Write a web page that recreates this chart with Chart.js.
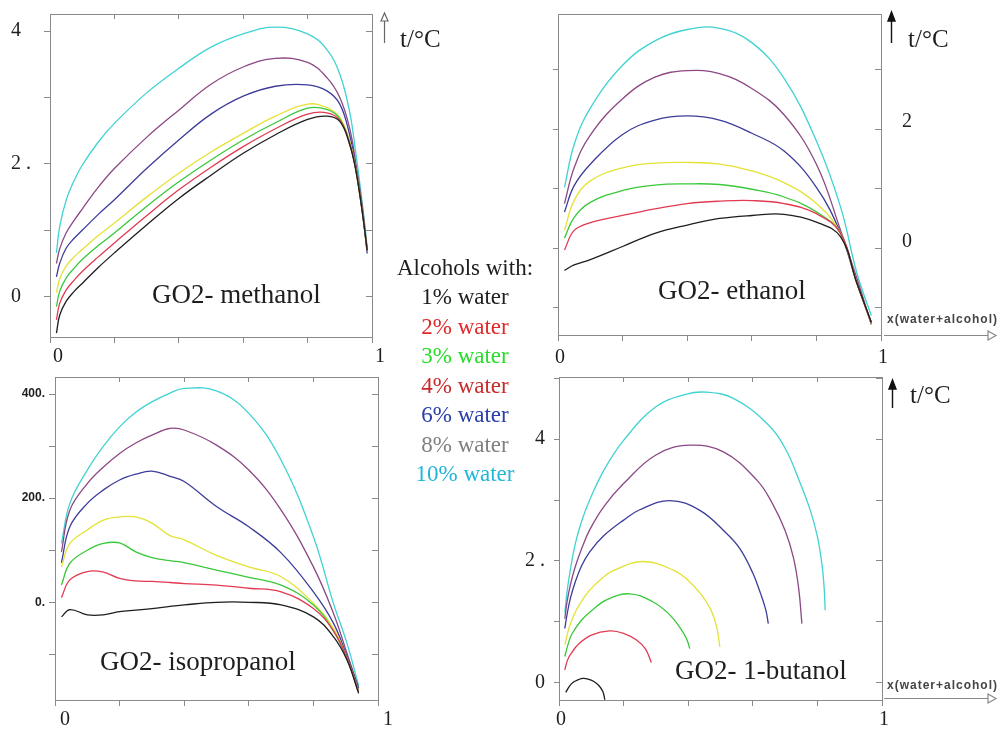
<!DOCTYPE html>
<html><head><meta charset="utf-8">
<script src="https://cdn.jsdelivr.net/npm/chart.js@4.4.1/dist/chart.umd.min.js"></script>
<style>
html,body{margin:0;padding:0;background:#fff;}
body{width:998px;height:729px;position:relative;overflow:hidden;font-family:"Liberation Serif","Times New Roman",serif;}
canvas{position:absolute;}
.t{position:absolute;white-space:nowrap;color:#1e1e1e;}
.title{font-size:27px;line-height:30px;}
.unit{font-size:25px;line-height:28px;}
.xlab{font:bold 12px "Liberation Sans",Arial,sans-serif;line-height:14px;color:#444;letter-spacing:1px;}
.leg{font-size:23px;line-height:26px;text-align:center;width:170px;left:380px;}
svg{position:absolute;left:0;top:0;}
</style></head><body>
<canvas id="cMeth" width="395" height="372" style="left:0;top:0"></canvas>
<canvas id="cEth" width="380" height="372" style="left:548px;top:0"></canvas>
<canvas id="cIso" width="400" height="366" style="left:0;top:363px"></canvas>
<canvas id="cBut" width="390" height="366" style="left:500px;top:363px"></canvas>

<svg width="998" height="729">
  <g stroke="#666" stroke-width="1.2" fill="none">
    <line x1="384.5" y1="43" x2="384.5" y2="17"/>
    <polygon points="381,21 384.5,13 388,21" fill="#fff"/>
  </g>
  <g stroke="#111" stroke-width="1.4">
    <line x1="891.5" y1="43" x2="891.5" y2="18"/>
    <polygon points="888,21 891.5,12 895,21" fill="#111"/>
    <line x1="892.5" y1="408" x2="892.5" y2="386"/>
    <polygon points="889,389 892.5,380 896,389" fill="#111"/>
  </g>
  <g stroke="#888" stroke-width="1.2">
    <line x1="884" y1="335.5" x2="988" y2="335.5"/>
    <polygon points="988,331 996,335.5 988,340" fill="#fff"/>
    <line x1="884" y1="698.5" x2="988" y2="698.5"/>
    <polygon points="988,694 996,698.5 988,703" fill="#fff"/>
  </g>
</svg>

<div class="t title" style="left:152px;top:279px">GO2- methanol</div>
<div class="t title" style="left:658px;top:275px">GO2- ethanol</div>
<div class="t title" style="left:100px;top:646px">GO2- isopropanol</div>
<div class="t title" style="left:675px;top:655px">GO2- 1-butanol</div>
<div class="t unit" style="left:400px;top:25px">t/°C</div>
<div class="t unit" style="left:908px;top:25px">t/°C</div>
<div class="t unit" style="left:910px;top:381px">t/°C</div>
<div class="t xlab" style="left:887px;top:312px">x(water+alcohol)</div>
<div class="t xlab" style="left:887px;top:678px">x(water+alcohol)</div>
<div id="legend"></div>

<script>
// ---------- categories ----------
const seriesNames = ['1% water','2% water','3% water','4% water','6% water','8% water','10% water'];
const legendTitle = 'Alcohols with:';

// ---------- GO2 - methanol ----------
const methanolX  = [0.02, 0.03, 0.05, 0.075, 0.1, 0.15, 0.2, 0.3, 0.4, 0.5, 0.6, 0.7, 0.8, 0.86, 0.9, 0.93, 0.95, 0.97, 0.985];
const methanol1  = [-0.55, -0.28, -0.07, 0.08, 0.2, 0.44, 0.66, 1.08, 1.48, 1.83, 2.16, 2.44, 2.67, 2.72, 2.64, 2.3, 1.9, 1.27, 0.7];
const methanol2  = [-0.35, -0.1, 0.1, 0.25, 0.38, 0.6, 0.81, 1.22, 1.61, 1.95, 2.26, 2.53, 2.75, 2.77, 2.66, 2.32, 1.9, 1.27, 0.7];
const methanol3  = [-0.15, 0.08, 0.28, 0.43, 0.56, 0.77, 0.96, 1.36, 1.73, 2.06, 2.36, 2.62, 2.84, 2.82, 2.68, 2.33, 1.9, 1.27, 0.7];
const methanol4  = [0.06, 0.27, 0.46, 0.6, 0.71, 0.92, 1.11, 1.5, 1.86, 2.18, 2.46, 2.72, 2.9, 2.85, 2.7, 2.35, 1.92, 1.28, 0.7];
const methanol6  = [0.3, 0.5, 0.73, 0.88, 1.0, 1.24, 1.46, 1.93, 2.36, 2.75, 3.02, 3.17, 3.19, 3.1, 2.9, 2.45, 1.95, 1.3, 0.65];
const methanol8  = [0.5, 0.72, 0.96, 1.15, 1.32, 1.65, 1.93, 2.4, 2.81, 3.2, 3.46, 3.59, 3.53, 3.3, 3.0, 2.55, 2.0, 1.35, 0.7];
const methanol10 = [0.66, 1.05, 1.45, 1.75, 1.98, 2.33, 2.61, 3.07, 3.44, 3.76, 3.96, 4.06, 3.96, 3.72, 3.35, 2.8, 2.15, 1.4, 0.76];
const methanolYTicks = [4, 2, 0];
const methanolYLabels = ['4', '2 .', '0'];

// ---------- GO2 - ethanol ----------
const ethanolX  = [0.02, 0.05, 0.1, 0.2, 0.3, 0.4, 0.5, 0.6, 0.7, 0.8, 0.875, 0.925, 0.97];
const ethanol1  = [-0.37, -0.28, -0.19, 0.03, 0.25, 0.39, 0.5, 0.55, 0.57, 0.44, 0.19, -0.58, -1.24];
const ethanol2  = [-0.03, 0.3, 0.43, 0.55, 0.66, 0.75, 0.79, 0.8, 0.75, 0.58, 0.25, -0.58, -1.26];
const ethanol3  = [0.17, 0.52, 0.77, 0.97, 1.06, 1.08, 1.07, 0.99, 0.86, 0.61, 0.25, -0.58, -1.26];
const ethanol4  = [0.3, 0.8, 1.13, 1.35, 1.43, 1.44, 1.41, 1.3, 1.1, 0.75, 0.25, -0.58, -1.26];
const ethanol6  = [0.61, 1.05, 1.41, 1.91, 2.15, 2.22, 2.15, 1.93, 1.63, 1.02, 0.25, -0.58, -1.24];
const ethanol8  = [0.75, 1.35, 1.9, 2.51, 2.87, 2.98, 2.93, 2.68, 2.24, 1.41, 0.3, -0.5, -1.28];
const ethanol10 = [1.02, 1.74, 2.35, 3.07, 3.48, 3.67, 3.69, 3.45, 2.85, 1.8, 0.69, -0.41, -1.13];
const ethanolYTicks = [2, 0];
const ethanolYLabels = ['2', '0'];

// ---------- GO2 - isopropanol ----------
const isoX  = [0.02, 0.046, 0.1, 0.15, 0.2, 0.25, 0.3, 0.356, 0.4, 0.5, 0.6, 0.7, 0.8, 0.862, 0.904, 0.94];
const iso1  = [-28, -14, -24, -24, -18, -15, -12, -8, -5, 0, 0, -5, -28, -66, -111, -175];
const iso2  = [9, 43, 59, 58, 46, 41, 40, 38, 36, 33, 27, 20, -12, -55, -108, -172];
const iso3  = [33, 75, 100, 113, 114, 97, 86, 80, 76, 62, 48, 33, -5, -55, -108, -170];
const iso4  = [68, 113, 139, 158, 164, 164, 152, 128, 120, 90, 68, 49, -2, -50, -108, -170];
const iso6  = [76, 145, 190, 216, 235, 246, 252, 242, 232, 184, 145, 95, 20, -40, -104, -165];
const iso8  = [97, 177, 228, 260, 286, 306, 321, 334, 331, 302, 254, 177, 68, -21, -98, -165];
const iso10 = [113, 190, 254, 300, 337, 365, 385, 402, 411, 406, 363, 273, 126, -2, -79, -160];
const isoYTicks = [400, 200, 0];
const isoYLabels = ['400.', '200.', '0.'];

// ---------- GO2 - 1-butanol ----------
const but1X  = [0.021, 0.032, 0.045, 0.06, 0.074, 0.09, 0.108, 0.124, 0.136, 0.142];
const but1   = [-0.16, -0.06, 0.01, 0.05, 0.07, 0.06, 0.02, -0.05, -0.15, -0.28];
const but2X  = [0.018, 0.025, 0.035, 0.06, 0.1, 0.157, 0.2, 0.24, 0.268, 0.286];
const but2   = [0.21, 0.35, 0.46, 0.63, 0.78, 0.85, 0.81, 0.7, 0.55, 0.33];
const but3X  = [0.018, 0.028, 0.04, 0.07, 0.1, 0.147, 0.219, 0.29, 0.34, 0.375, 0.395, 0.405];
const but3   = [0.43, 0.63, 0.8, 1.03, 1.18, 1.36, 1.46, 1.33, 1.13, 0.9, 0.72, 0.56];
const but4X  = [0.018, 0.03, 0.045, 0.065, 0.095, 0.13, 0.168, 0.26, 0.354, 0.4, 0.44, 0.47, 0.488, 0.498];
const but4   = [0.62, 0.88, 1.1, 1.3, 1.52, 1.7, 1.84, 1.99, 1.85, 1.68, 1.45, 1.2, 0.92, 0.59];
const but6X  = [0.018, 0.025, 0.035, 0.05, 0.07, 0.095, 0.14, 0.2, 0.25, 0.343, 0.436, 0.519, 0.56, 0.6, 0.625, 0.64, 0.648];
const but6   = [0.89, 1.12, 1.38, 1.65, 1.92, 2.15, 2.42, 2.67, 2.84, 2.99, 2.83, 2.45, 2.2, 1.8, 1.45, 1.2, 0.97];
const but8X  = [0.018, 0.025, 0.035, 0.05, 0.07, 0.095, 0.14, 0.2, 0.3, 0.405, 0.509, 0.612, 0.66, 0.7, 0.726, 0.742, 0.752];
const but8   = [1.05, 1.33, 1.6, 1.9, 2.2, 2.51, 2.9, 3.27, 3.74, 3.9, 3.79, 3.33, 2.95, 2.5, 2.05, 1.55, 0.97];
const but10X = [0.018, 0.025, 0.035, 0.05, 0.07, 0.095, 0.14, 0.2, 0.3, 0.395, 0.457, 0.54, 0.643, 0.7, 0.745, 0.778, 0.8, 0.814, 0.821, 0.824];
const but10  = [1.15, 1.5, 1.85, 2.27, 2.65, 3.0, 3.5, 3.98, 4.53, 4.74, 4.77, 4.67, 4.26, 3.85, 3.3, 2.83, 2.4, 1.95, 1.55, 1.19];
const butYTicks = [4, 2, 0];
const butYLabels = ['4', '2 .', '0'];

// ---------- shared x tick labels ----------
const xTicks = [0, 1];
const xLabels = ['0', '1'];

// ---------- styles ----------
const LINE_COLORS = ['#1e1e1e', '#e23a52', '#3ac83a', '#e4e236', '#3c3c9a', '#8c4884', '#40d2d2'];
const LEGEND_COLORS = ['#1e1e1e', '#e02a2a', '#2adc2a', '#c82a2a', '#2a40a8', '#808080', '#22b6d8'];
const SERIF = '"Liberation Serif", "Times New Roman", serif';
const GRID = '#8a8a8a';

// legend (text)
(function(){
  const host = document.getElementById('legend');
  const mk = (txt, top, color) => {
    const d = document.createElement('div');
    d.className = 't leg'; d.style.top = top + 'px'; d.style.color = color; d.textContent = txt;
    host.appendChild(d);
  };
  mk(legendTitle, 255, '#1e1e1e');
  seriesNames.forEach((n, i) => mk(n, 284 + i * 29.5, LEGEND_COLORS[i]));
})();

function labelFn(vals, labels) {
  return v => { const i = vals.findIndex(t => Math.abs(t - v) < 1e-6); return i >= 0 ? labels[i] : ''; };
}

function axis(o) {
  const vertical = o.pos === 'left' || o.pos === 'right';
  return {
    type: 'linear', position: o.pos, min: o.min, max: o.max,
    afterFit: s => {
      if (vertical) s.width = o.size; else s.height = o.size;
      s.paddingLeft = 0; s.paddingRight = 0; s.paddingTop = 0; s.paddingBottom = 0;
    },
    ticks: {
      display: !!o.labels, stepSize: o.step, autoSkip: false, maxRotation: 0, minRotation: 0,
      includeBounds: false, padding: o.pad || 0, labelOffset: o.off || 0,
      crossAlign: o.cross || 'near', color: '#1e1e1e',
      font: o.font || { family: SERIF, size: 20 },
      callback: o.labels ? labelFn(o.tickVals, o.labels) : () => ''
    },
    grid: { drawOnChartArea: false, drawTicks: !!o.tl, tickLength: o.tl || 0, color: GRID, lineWidth: 1 },
    border: { display: true, color: GRID, width: 1 }
  };
}

function buildSets(xs, ysList) {
  return ysList.map((ys, i) => {
    const xArr = Array.isArray(xs[0]) ? xs[i] : xs;
    return {
      label: seriesNames[i],
      data: xArr.map((x, j) => ({ x: x, y: ys[j] })),
      showLine: true, borderColor: LINE_COLORS[i], borderWidth: 1.3,
      pointRadius: 0, pointHoverRadius: 0, fill: false, tension: 0.4
    };
  });
}

function panel(id, scales, datasets, padLeft) {
  return new Chart(document.getElementById(id), {
    type: 'scatter',
    data: { datasets: datasets },
    options: {
      responsive: false, animation: false, devicePixelRatio: 1, events: [],
      layout: { padding: { left: padLeft || 0, right: 0, top: 0, bottom: 0 } },
      plugins: { legend: { display: false }, tooltip: { enabled: false } },
      scales: scales
    }
  });
}

// methanol
panel('cMeth', {
  x:  axis({ pos: 'bottom', min: 0, max: 1, size: 35, step: 0.2, tl: 6, pad: 2, off: 8, tickVals: xTicks, labels: xLabels }),
  xt: axis({ pos: 'top', min: 0, max: 1, size: 14, step: 0.2, tl: -5 }),
  y:  axis({ pos: 'left', min: -0.607, max: 4.258, size: 39, step: 1, tl: 6, pad: 0, cross: 'far', tickVals: methanolYTicks, labels: methanolYLabels }),
  yr: axis({ pos: 'right', min: -0.607, max: 4.258, size: 23, step: 1, tl: -6 })
}, buildSets(methanolX, [methanol1, methanol2, methanol3, methanol4, methanol6, methanol8, methanol10]), 11);

// ethanol
panel('cEth', {
  x:  axis({ pos: 'bottom', min: 0, max: 1, size: 37, step: 0.2, tl: 6, pad: 5, off: 2, tickVals: xTicks, labels: xLabels }),
  xt: axis({ pos: 'top', min: 0, max: 1, size: 14, step: 0.2, tl: 0 }),
  y:  axis({ pos: 'left', min: -1.455, max: 3.93, size: 10, step: 1, tl: 5 }),
  yr: axis({ pos: 'right', min: -1.455, max: 3.93, size: 47, step: 1, tl: -6, pad: 27, off: -7, tickVals: ethanolYTicks, labels: ethanolYLabels })
}, buildSets(ethanolX, [ethanol1, ethanol2, ethanol3, ethanol4, ethanol6, ethanol8, ethanol10]));

// isopropanol
panel('cIso', {
  x:  axis({ pos: 'bottom', min: 0, max: 1, size: 29, step: 0.2, tl: 6, pad: 2, off: 10, tickVals: xTicks, labels: xLabels }),
  xt: axis({ pos: 'top', min: 0, max: 1, size: 14, step: 0.2, tl: -5 }),
  y:  axis({ pos: 'left', min: -187.7, max: 432.8, size: 55, step: 100, tl: 6, pad: 4,
             font: { family: '"Liberation Sans", Arial, sans-serif', size: 12, weight: 'bold' },
             tickVals: isoYTicks, labels: isoYLabels }),
  yr: axis({ pos: 'right', min: -187.7, max: 432.8, size: 22, step: 100, tl: -6 })
}, buildSets(isoX, [iso1, iso2, iso3, iso4, iso6, iso8, iso10]));

// 1-butanol
panel('cBut', {
  x:  axis({ pos: 'bottom', min: 0, max: 1, size: 29, step: 0.2, tl: 6, pad: 2, off: 2, tickVals: xTicks, labels: xLabels }),
  xt: axis({ pos: 'top', min: 0, max: 1, size: 14, step: 0.2, tl: -5 }),
  y:  axis({ pos: 'left', min: -0.284, max: 5.02, size: 59, step: 1, tl: 5, pad: 9, tickVals: butYTicks, labels: butYLabels }),
  yr: axis({ pos: 'right', min: -0.284, max: 5.02, size: 8, step: 1, tl: -6 })
}, buildSets([but1X, but2X, but3X, but4X, but6X, but8X, but10X], [but1, but2, but3, but4, but6, but8, but10]));
</script>
</body></html>
